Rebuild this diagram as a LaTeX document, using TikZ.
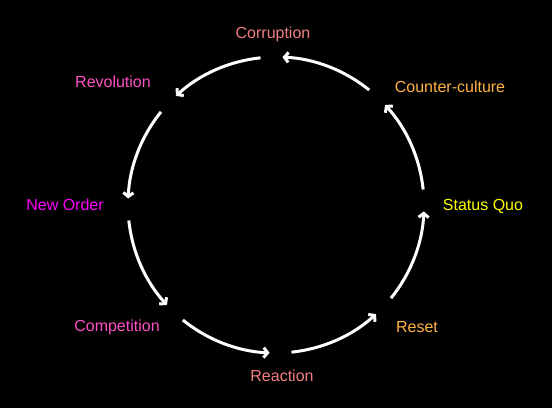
\documentclass[tikz,border=0pt]{standalone}
\usepackage{fontspec}
\setmainfont{Liberation Sans}
\usetikzlibrary{arrows.meta}

\definecolor{corrupt}{HTML}{F08080}
\definecolor{rebel}{HTML}{FF4FC4}
\definecolor{order}{HTML}{FF00FF}
\definecolor{counter}{HTML}{FFB347}
\definecolor{quo}{HTML}{FFFF00}

\tikzset{
  stage/.style = {font=\fontsize{16}{19}\selectfont, inner sep=0pt},
  turn/.style = {draw=white, line width=3pt,
    -{Straight Barb[length=4pt, width=10pt, line width=3pt]}}
}

\begin{document}
\begin{tikzpicture}[x=1pt, y=1pt]
    \fill[black] (0, 0) rectangle (552, 408);
    \useasboundingbox (0, 0) rectangle (552, 408);

    \coordinate (hub) at (276, 203);

    \node[stage, text=quo]     (statusquo)   at (483, 202) {Status Quo};
    \node[stage, text=counter] (counterculture) at (450, 321) {Counter-culture};
    \node[stage, text=corrupt] (corruption)  at (273, 374) {Corruption};
    \node[stage, text=rebel]   (revolution)  at (113, 326) {Revolution};
    \node[stage, text=order]   (neworder)    at (65, 203)  {New Order};
    \node[stage, text=rebel]   (competition) at (117, 81)  {Competition};
    \node[stage, text=corrupt] (reaction)    at (282, 32)  {Reaction};
    \node[stage, text=counter] (reset)       at (417, 81)  {Reset};

    % one arc per step of the cycle
    \foreach \a in {0, 45, ..., 315}
      \draw[turn] (hub) ++(\a + 6:148) arc[start angle = \a + 6, end angle = \a + 42.5, radius = 148];
\end{tikzpicture}
\end{document}
